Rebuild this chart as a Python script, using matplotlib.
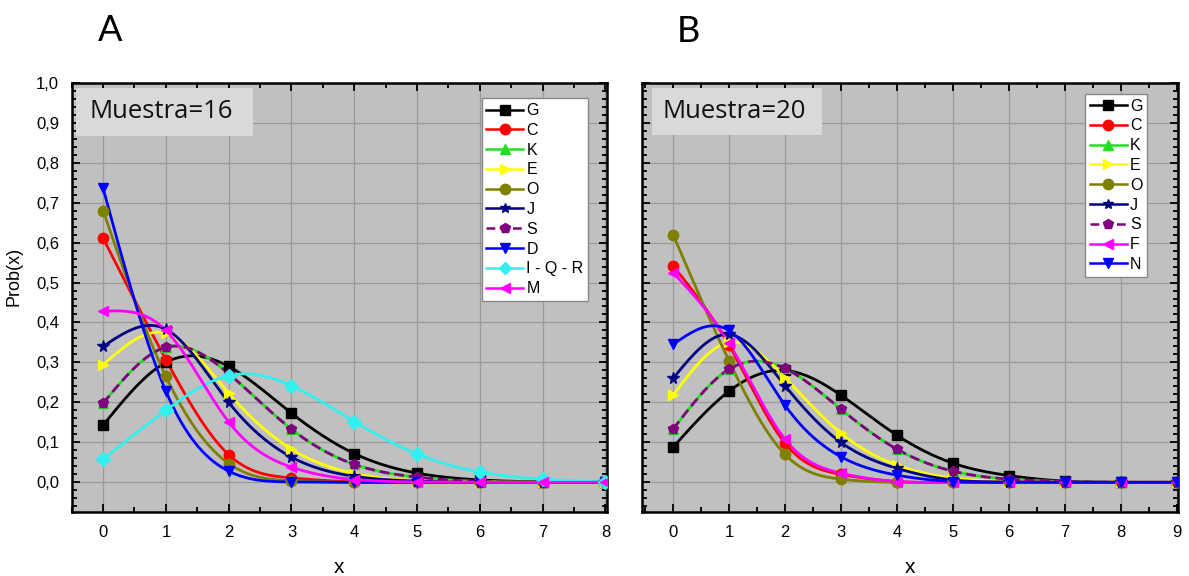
import numpy as np
import matplotlib
matplotlib.use("Agg")
import matplotlib.pyplot as plt
from matplotlib.ticker import MultipleLocator, FixedLocator, FixedFormatter
from matplotlib.patches import Rectangle

# ---------------- data ----------------
x_a = [0, 1, 2, 3, 4, 5, 6, 7, 8]
x_b = [0, 1, 2, 3, 4, 5, 6, 7, 8, 9]

# Panel A (Muestra=16)
a_G = [0.143, 0.300, 0.290, 0.173, 0.072, 0.023, 0.006, 0.001, 0.000]
a_C = [0.611, 0.307, 0.069, 0.011, 0.001, 0.000, 0.000, 0.000, 0.000]
a_K = [0.198, 0.338, 0.272, 0.133, 0.045, 0.013, 0.002, 0.000, 0.000]
a_E = [0.294, 0.373, 0.223, 0.083, 0.022, 0.004, 0.001, 0.000, 0.000]
a_O = [0.680, 0.265, 0.047, 0.004, 0.000, 0.000, 0.000, 0.000, 0.000]
a_J = [0.340, 0.383, 0.200, 0.063, 0.015, 0.003, 0.000, 0.000, 0.000]
a_S = [0.198, 0.338, 0.272, 0.133, 0.045, 0.013, 0.002, 0.000, 0.000]
a_D = [0.736, 0.228, 0.028, 0.001, 0.000, 0.000, 0.000, 0.000, 0.000]
a_IQR = [0.058, 0.180, 0.267, 0.242, 0.152, 0.071, 0.026, 0.008, 0.001]
a_M = [0.428, 0.380, 0.151, 0.038, 0.007, 0.001, 0.000, 0.000, 0.000]

# Panel B (Muestra=20)
b_G = [0.088, 0.228, 0.280, 0.218, 0.118, 0.048, 0.017, 0.003, 0.000, 0.000]
b_C = [0.542, 0.343, 0.098, 0.020, 0.002, 0.000, 0.000, 0.000, 0.000, 0.000]
b_K = [0.133, 0.283, 0.285, 0.183, 0.083, 0.028, 0.008, 0.002, 0.000, 0.000]
b_E = [0.218, 0.350, 0.262, 0.123, 0.043, 0.011, 0.002, 0.000, 0.000, 0.000]
b_O = [0.620, 0.304, 0.070, 0.008, 0.000, 0.000, 0.000, 0.000, 0.000, 0.000]
b_J = [0.260, 0.370, 0.242, 0.100, 0.035, 0.006, 0.001, 0.000, 0.000, 0.000]
b_S = [0.133, 0.283, 0.285, 0.183, 0.083, 0.028, 0.008, 0.002, 0.000, 0.000]
b_F = [0.525, 0.348, 0.108, 0.023, 0.002, 0.000, 0.000, 0.000, 0.000, 0.000]
b_N = [0.345, 0.380, 0.193, 0.064, 0.018, 0.002, 0.000, 0.000, 0.000, 0.000]

labels_a = ["G", "C", "K", "E", "O", "J", "S", "D", "I - Q - R", "M"]
labels_b = ["G", "C", "K", "E", "O", "J", "S", "F", "N"]

y_ticks = [0.0, 0.1, 0.2, 0.3, 0.4, 0.5, 0.6, 0.7, 0.8, 0.9, 1.0]
y_tick_labels = ["0,0", "0,1", "0,2", "0,3", "0,4", "0,5", "0,6", "0,7", "0,8", "0,9", "1,0"]

panel_titles = ["Muestra=16", "Muestra=20"]
panel_letters = ["A", "B"]

# ---------------- styles ----------------
style = {
    "G": dict(color="#000000", marker="s", ls="-"),
    "C": dict(color="#ff0000", marker="o", ls="-"),
    "K": dict(color="#22e022", marker="^", ls="-"),
    "E": dict(color="#ffff00", marker=">", ls="-"),
    "O": dict(color="#808000", marker="o", ls="-"),
    "J": dict(color="#000080", marker="*", ls="-"),
    "S": dict(color="#800080", marker="p", ls=(0, (3.5, 1.8))),
    "D": dict(color="#0000ff", marker="v", ls="-"),
    "I - Q - R": dict(color="#33f0f0", marker="D", ls="-"),
    "M": dict(color="#ff00ff", marker="<", ls="-"),
    "F": dict(color="#ff00ff", marker="<", ls="-"),
    "N": dict(color="#0000ff", marker="v", ls="-"),
}


def natural_spline(x, y, n=400):
    x = np.asarray(x, float)
    y = np.asarray(y, float)
    m = len(x)
    h = np.diff(x)
    A = np.zeros((m, m))
    r = np.zeros(m)
    A[0, 0] = 1
    A[-1, -1] = 1
    for i in range(1, m - 1):
        A[i, i - 1] = h[i - 1]
        A[i, i] = 2 * (h[i - 1] + h[i])
        A[i, i + 1] = h[i]
        r[i] = 6 * ((y[i + 1] - y[i]) / h[i] - (y[i] - y[i - 1]) / h[i - 1])
    M = np.linalg.solve(A, r)
    xs = np.linspace(x[0], x[-1], n)
    idx = np.clip(np.searchsorted(x, xs) - 1, 0, m - 2)
    x0, x1 = x[idx], x[idx + 1]
    hh = x1 - x0
    t0 = x1 - xs
    t1 = xs - x0
    ys = (M[idx] * t0 ** 3 / (6 * hh) + M[idx + 1] * t1 ** 3 / (6 * hh)
          + (y[idx] / hh - M[idx] * hh / 6) * t0
          + (y[idx + 1] / hh - M[idx + 1] * hh / 6) * t1)
    return xs, ys


plt.rcParams["font.family"] = ["Liberation Sans", "DejaVu Sans"]

fig = plt.figure(figsize=(11.89, 5.76), dpi=100)
ax_a = fig.add_axes([0.0603, 0.1106, 0.4500, 0.7458])
ax_b = fig.add_axes([0.5402, 0.1106, 0.4503, 0.7458])

panels = [
    (ax_a, x_a, [a_G, a_C, a_K, a_E, a_O, a_J, a_S, a_D, a_IQR, a_M], labels_a,
     (-0.5, 8.02), (0.0333, 0.9656, 0.9637), (0.008, 0.339, 0.876, 0.112)),
    (ax_b, x_b, [b_G, b_C, b_K, b_E, b_O, b_J, b_S, b_F, b_N], labels_b,
     (-0.55, 9.02), (0.038, 0.943, 0.974), (0.0176, 0.335, 0.878, 0.110)),
]

for k, (ax, xv, series, labs, xlim, pos, box) in enumerate(panels):
    ax.set_facecolor("#c0c0c0")
    handles = []
    for ys, lab in zip(series, labs):
        st = style[lab]
        xs, ss = natural_spline(xv, ys)
        ax.plot(xs, ss, color=st["color"], ls=st["ls"], lw=2.0, zorder=3)
        ax.plot(xv, ys, ls="none", marker=st["marker"], color=st["color"],
                markersize=8.5 if st["marker"] == "*" else 7.5, mec=st["color"], zorder=4)
        h, = ax.plot([], [], color=st["color"], ls=st["ls"], lw=1.8,
                     marker=st["marker"], markersize=7.5 if st["marker"] != "D" else 6.5,
                     mec=st["color"])
        handles.append(h)
    ax.set_xlim(*xlim)
    ax.set_ylim(-0.075, 1.0)
    ax.xaxis.set_major_locator(MultipleLocator(1))
    ax.xaxis.set_minor_locator(MultipleLocator(0.5))
    ax.yaxis.set_major_locator(FixedLocator(y_ticks))
    ax.yaxis.set_minor_locator(MultipleLocator(0.02))
    if k == 0:
        ax.yaxis.set_major_formatter(FixedFormatter(y_tick_labels))
        ax.set_ylabel("Prob(x)", fontsize=13)
        ax.yaxis.set_label_coords(-0.092, 0.55)
    else:
        ax.set_yticklabels([])
    ax.grid(True, which="major", color="#9a9a9a", lw=0.9, zorder=0)
    ax.set_axisbelow(True)
    ax.tick_params(which="both", direction="in", top=True, right=True,
                   labelsize=12, width=1.3, pad=9, color="black")
    ax.tick_params(which="major", length=6)
    ax.tick_params(which="minor", length=3.5)
    for sp in ax.spines.values():
        sp.set_linewidth(1.8)
    ax.set_xlabel("x", fontsize=15, labelpad=13)

    bx0, bx1, by0, bh = box
    ax.add_patch(Rectangle((bx0, by0), bx1 - bx0, bh, transform=ax.transAxes,
                           facecolor="#d9d9d9", edgecolor="none", zorder=5))
    ax.text(pos[0], by0 + bh / 2, panel_titles[k], transform=ax.transAxes,
            fontsize=18.5, family=["Open Sans", "DejaVu Sans"], va="center",
            ha="left", zorder=6, color="#111111")

    leg = ax.legend(handles, labs, loc="upper right", bbox_to_anchor=(pos[1], pos[2]),
                    fontsize=11.5, frameon=True, fancybox=False, framealpha=1,
                    edgecolor="#888888", borderaxespad=0, handlelength=2.3,
                    handletextpad=0.2, labelspacing=0.3, borderpad=0.3)
    leg.get_frame().set_linewidth(1.0)
    leg.set_zorder(7)

fig.text(0.0925, 0.947, panel_letters[0], fontsize=26, ha="center", va="center",
         family=["Lato", "DejaVu Sans"])
fig.text(0.5787, 0.945, panel_letters[1], fontsize=26, ha="center", va="center",
         family=["Lato", "DejaVu Sans"])

fig.savefig("out.png", dpi=100)
